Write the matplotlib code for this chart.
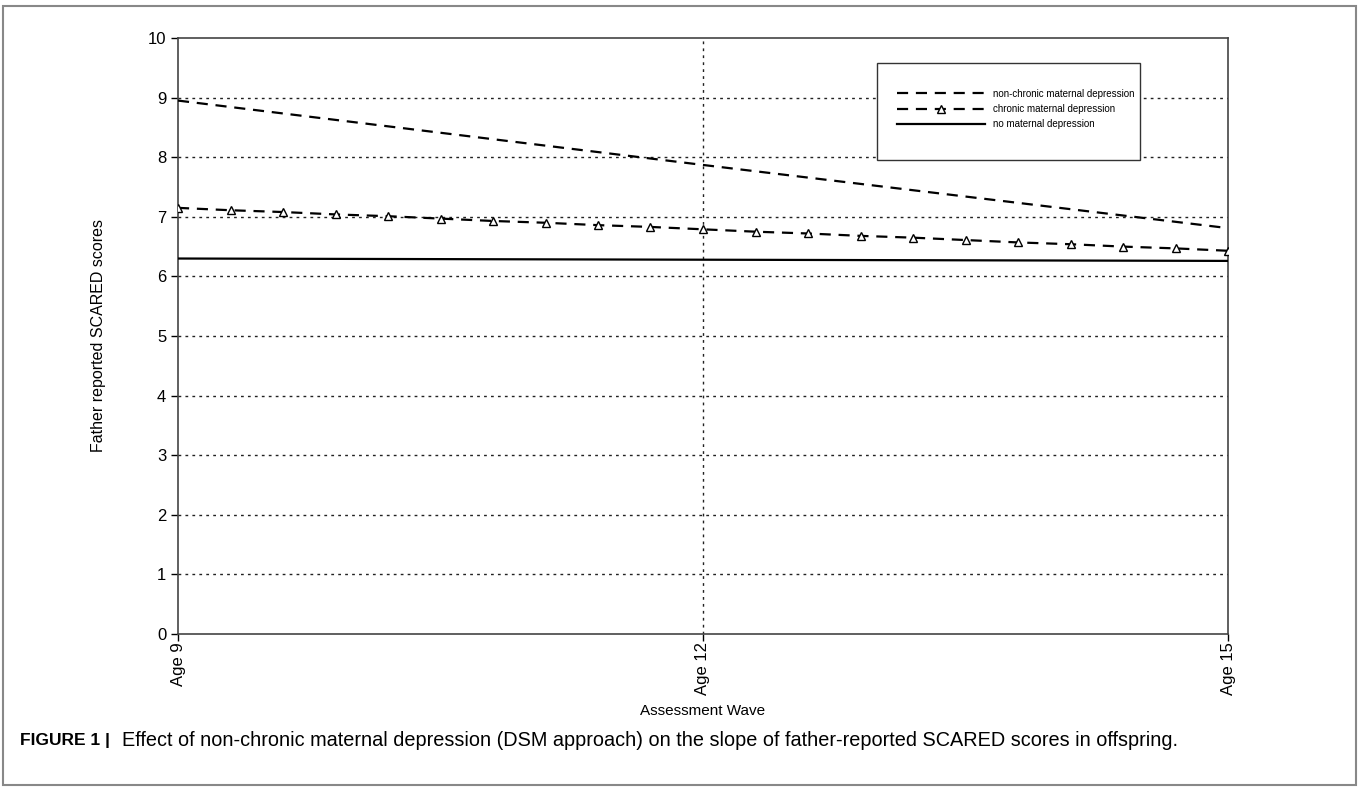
import matplotlib.pyplot as plt
from matplotlib.patches import Rectangle

# values
ages = [9, 12, 15]
tick_labels = ["Age 9", "Age 12", "Age 15"]
non_chronic = [8.95, 7.87, 6.81]
no_depression = [6.30, 6.28, 6.26]

# chronic line with its triangle markers (every 0.3 years)
chronic_ages = [9.0, 9.3, 9.6, 9.9, 10.2, 10.5, 10.8, 11.1, 11.4, 11.7, 12.0,
                12.3, 12.6, 12.9, 13.2, 13.5, 13.8, 14.1, 14.4, 14.7, 15.0]
chronic = [7.15, 7.11, 7.08, 7.04, 7.01, 6.97, 6.93, 6.90, 6.86, 6.83, 6.79,
           6.75, 6.72, 6.68, 6.65, 6.61, 6.57, 6.54, 6.50, 6.47, 6.43]

plt.rcParams['font.family'] = ['Liberation Sans', 'DejaVu Sans']

fig = plt.figure(figsize=(13.6, 7.87), dpi=100)
ax = fig.add_axes([178 / 1360, 1 - 634 / 787, 1050 / 1360, 596 / 787])

dash = (0, (5, 3.5))
ax.plot(ages, non_chronic, color='black', lw=1.6, linestyle=dash,
        label='non-chronic maternal depression', zorder=3)
ax.plot(chronic_ages, chronic, color='black', lw=1.6, linestyle=dash,
        marker='^', markersize=6, markerfacecolor='white', markeredgecolor='black',
        markeredgewidth=1, label='chronic maternal depression', zorder=3)
ax.plot(ages, no_depression, color='black', lw=1.6,
        label='no maternal depression', zorder=3)

ax.set_xlim(9, 15)
ax.set_ylim(0, 10)
ax.set_xticks(ages)
ax.set_xticklabels(tick_labels, rotation=90, fontsize=12)
ax.set_yticks(range(0, 11))
ax.tick_params(axis='y', labelsize=12, length=5, direction='out', width=1)
ax.tick_params(axis='x', length=5, direction='out', width=1, pad=1)

for y in range(1, 10):
    ax.axhline(y, color='#222222', lw=1, linestyle=(0, (2, 3)), zorder=1)
ax.axvline(12, color='#222222', lw=1, linestyle=(0, (2, 3)), zorder=1)

for s in ax.spines.values():
    s.set_color('#444444')
    s.set_linewidth(1.2)

ax.set_ylabel('Father reported SCARED scores', fontsize=11.5, labelpad=30)
ax.set_xlabel('Assessment Wave', fontsize=11, labelpad=6)

# legend box drawn separately, entries placed inside it
ax.add_patch(Rectangle((0.6657, 0.795), 0.2505, 0.163, transform=ax.transAxes,
                       fill=True, facecolor='white', edgecolor='#333333',
                       lw=1, zorder=4))
leg = ax.legend(loc='upper left', bbox_to_anchor=(0.685, 0.915), fontsize=7,
                handlelength=9, frameon=False, borderpad=0, labelspacing=0.55,
                handletextpad=0.8, borderaxespad=0)
leg.set_zorder(5)

# outer figure frame and caption
fig.patches.append(Rectangle((3 / 1360, 2 / 787), 1353 / 1360, 779 / 787,
                             transform=fig.transFigure, fill=False,
                             edgecolor='#888888', lw=1.5))
fig.text(20 / 1360, 1 - 741 / 787, 'FIGURE 1 |', fontsize=12.5, fontweight='bold',
         va='center', ha='left')
fig.text(122 / 1360, 1 - 741 / 787,
         'Effect of non-chronic maternal depression (DSM approach) on the slope '
         'of father-reported SCARED scores in offspring.',
         fontsize=14.3, va='center', ha='left')

fig.savefig('out.png', dpi=100)
